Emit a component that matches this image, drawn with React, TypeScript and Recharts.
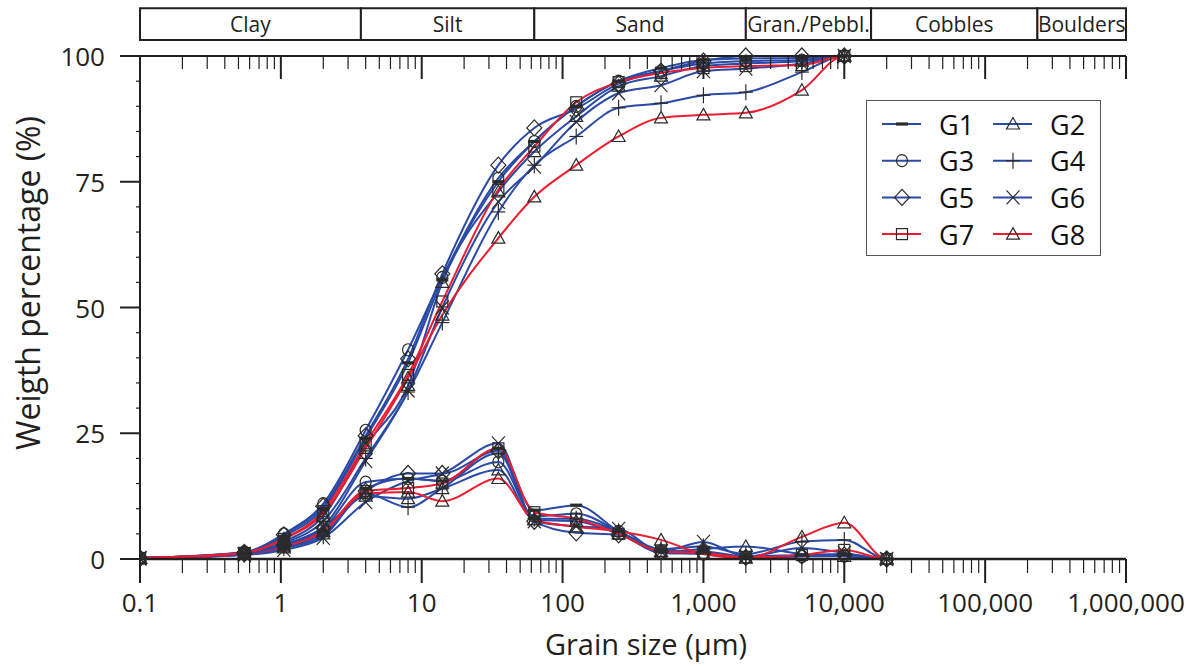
import React from 'react';
import { LineChart, Line, XAxis, YAxis, Legend, ReferenceArea, Customized } from 'recharts';

// grain sizes (um) of the sampled points; last point only carries the line out to the right
const sizesCum = [0.1, 0.55, 1.05, 2, 4, 8, 14, 35, 63, 125, 250, 500, 1000, 2000, 5000, 10000, 500000];
const sizesFreq = [0.1, 0.55, 1.05, 2, 4, 8, 14, 35, 63, 125, 250, 500, 1000, 2000, 5000, 10000, 20000, 500000];

const groups = ['G1', 'G2', 'G3', 'G4', 'G5', 'G6', 'G7', 'G8'];
const groupColors = ['#2A4AA6', '#2A4AA6', '#2A4AA6', '#2A4AA6', '#2A4AA6', '#2A4AA6', '#EE1C2E', '#EE1C2E'];
const groupMarkers = ['dash', 'triangle', 'circle', 'plus', 'diamond', 'cross', 'square', 'triangle'];

// cumulative curves (%)
const cumG1 = [0.2, 1.3, 4.5, 10, 24, 39, 55.5, 75, 83, 90, 95, 97.6, 99.2, 99.5, 99.6, 100, 100];
const cumG2 = [0.2, 1.2, 3.5, 8.5, 22.5, 34.5, 55, 73, 81, 88, 94, 96, 98, 98.5, 99, 100, 100];
const cumG3 = [0.2, 1.4, 5, 11, 25.6, 41.6, 56, 75.7, 83, 90, 95, 97, 98.5, 99, 99.2, 100, 100];
const cumG4 = [0.2, 1.1, 3.2, 7.5, 20, 33.2, 47, 69, 78.3, 84, 89.7, 90.6, 92.2, 92.8, 96.8, 100, 100];
const cumG5 = [0.2, 1.3, 4.8, 10.5, 24.5, 39.8, 56.7, 78.3, 85.7, 89.5, 94.5, 97, 99, 100, 100, 100, 100];
const cumG6 = [0.2, 1.0, 2.8, 6.5, 19.5, 33.5, 50, 71, 78, 86.9, 92.6, 94.2, 97, 97.5, 98.5, 100, 100];
const cumG7 = [0.2, 1.2, 4, 9.5, 23, 36.6, 51.2, 73.4, 82, 90.8, 94.8, 96.6, 97.6, 98, 98.2, 100, 100];
const cumG8 = [0.2, 1.2, 4, 9, 22, 36, 48.5, 63.8, 72, 78.3, 84, 87.7, 88.3, 88.7, 93.2, 100, 100];

// frequency curves (%)
const freqG1 = [0.1, 1.0, 2.5, 5.5, 14, 16, 15.5, 22, 9.7, 10.7, 5.5, 1.5, 1.5, 0.5, 0.8, 1.0, 0, 0];
const freqG2 = [0.1, 1.0, 2.2, 5.0, 12.5, 12, 14, 17.7, 7.8, 7.5, 5.0, 1.5, 2.0, 2.5, 1.0, 0.5, 0, 0];
const freqG3 = [0.1, 1.1, 3.0, 6.0, 15.3, 16, 15.5, 19.3, 8.5, 9, 5.5, 1.2, 1.0, 0.3, 0.5, 0.6, 0, 0];
const freqG4 = [0.1, 0.9, 2.2, 4.5, 13, 10.3, 14.1, 21, 8, 8, 5.5, 2, 2.5, 1, 3.5, 3.8, 0, 0];
const freqG5 = [0.1, 1.0, 2.8, 6.2, 13.5, 17, 17, 21.5, 7.5, 5.2, 4.8, 1.5, 1.2, 0.3, 0.6, 0.8, 0, 0];
const freqG6 = [0.1, 0.8, 1.8, 4.2, 11.3, 15.5, 17, 23, 7.5, 6.5, 6, 1.5, 3.4, 0.5, 2.2, 1.2, 0, 0];
const freqG7 = [0.1, 1.0, 2.5, 5.5, 13.5, 14.1, 15, 22, 9.3, 8, 5, 1.5, 1.2, 0.3, 0.8, 1.8, 0, 0];
const freqG8 = [0.1, 1.0, 2.6, 5.5, 13, 13.3, 11.5, 16, 7.8, 6.4, 5.5, 3.8, 1.0, 0.2, 4.4, 7.2, 0, 0];

const cumValues = [cumG1, cumG2, cumG3, cumG4, cumG5, cumG6, cumG7, cumG8];
const freqValues = [freqG1, freqG2, freqG3, freqG4, freqG5, freqG6, freqG7, freqG8];

// size classes shown in the bar above the plot
const zoneNames = ['Clay', 'Silt', 'Sand', 'Gran./Pebbl.', 'Cobbles', 'Boulders'];
const zoneLimits = [0.1, 3.7, 63, 2000, 15500, 235000, 1000000];

const xMajor = [0.1, 1, 10, 100, 1000, 10000, 100000, 1000000];

const xMinor: number[] = [];
xMajor.slice(0, -1).forEach((d) => {
    for (let k = 2; k <= 9; k++) xMinor.push(+(d * k).toPrecision(3));
});
const xTicks = [...xMajor, ...xMinor].sort((a, b) => a - b);
const yTicks: number[] = [];
for (let v = 0; v <= 100; v += 5) yTicks.push(v);

const INK = '#231F20';
const FONT = '"Open Sans", "Noto Sans", sans-serif';

// chart box
const W = 1199;
const H = 666;
const M = { top: 46, right: 73, bottom: 47, left: 20 };
const TOP_AXIS_H = 10;
const BOTTOM_AXIS_H = 60;
const PLOT_H = H - M.top - M.bottom - TOP_AXIS_H - BOTTOM_AXIS_H;

const toPoints = (sizes: number[], vals: number[]) => sizes.map((x, i) => ({ x, y: vals[i] }));

const isMajor = (v: number) => Math.abs(Math.log10(v) - Math.round(Math.log10(v))) < 1e-6;
const fmtX = (v: number) => (v < 1 ? String(v) : v.toLocaleString('en-US'));

const Marker = ({ shape, cx, cy }: { shape: string; cx: number; cy: number }) => {
    const s = { fill: 'none', stroke: '#2b2b2b', strokeWidth: 1.2 };
    switch (shape) {
        case 'dash':
            return <rect x={cx - 6} y={cy - 1.6} width={12} height={3.2} fill="#2b2b2b" />;
        case 'triangle':
            return <polygon points={`${cx},${cy - 6.5} ${cx + 6.5},${cy + 5} ${cx - 6.5},${cy + 5}`} {...s} />;
        case 'circle':
            return <ellipse cx={cx} cy={cy} rx={5.5} ry={6} {...s} />;
        case 'plus':
            return (
                <g {...s}>
                    <line x1={cx - 7} x2={cx + 7} y1={cy} y2={cy} />
                    <line x1={cx} x2={cx} y1={cy - 8} y2={cy + 8} />
                </g>
            );
        case 'diamond':
            return <polygon points={`${cx},${cy - 8} ${cx + 7.5},${cy} ${cx},${cy + 8} ${cx - 7.5},${cy}`} {...s} />;
        case 'cross':
            return (
                <g {...s}>
                    <line x1={cx - 6.5} x2={cx + 6.5} y1={cy - 7} y2={cy + 7} />
                    <line x1={cx - 6.5} x2={cx + 6.5} y1={cy + 7} y2={cy - 7} />
                </g>
            );
        default:
            return <rect x={cx - 5.5} y={cy - 5.5} width={11} height={11} {...s} />;
    }
};

const makeDot = (shape: string, tag: string) => (props: any) => {
    const { cx, cy, index, payload } = props;
    if (cx == null || cy == null || payload.x > 100000) return <g key={`${tag}-${index}`} />;
    return (
        <g key={`${tag}-${index}`}>
            <Marker shape={shape} cx={cx} cy={cy} />
        </g>
    );
};

// bottom axis tick, also mirrors a tick inside the top border
const BottomTick = (props: any) => {
    const { x, y, payload } = props;
    const major = isMajor(payload.value);
    const top = y - PLOT_H;
    return (
        <g>
            <line x1={x} x2={x} y1={y} y2={y + (major ? 24 : 14)} stroke={INK} strokeWidth={major ? 2 : 1.2} />
            <line x1={x} x2={x} y1={top} y2={top + (major ? 23 : 13)} stroke={INK} strokeWidth={major ? 2 : 1.2} />
            {major && (
                <text x={x} y={y + 53} textAnchor="middle" fontSize={26} fill={INK} fontFamily={FONT}>
                    {fmtX(payload.value)}
                </text>
            )}
        </g>
    );
};

const LeftTick = (props: any) => {
    const { x, y, payload } = props;
    const major = payload.value % 25 === 0;
    return (
        <g>
            <line x1={x} x2={x - (major ? 20 : 4)} y1={y} y2={y} stroke={INK} strokeWidth={major ? 2 : 1.2} />
            {major && (
                <text x={x - 35} y={y} textAnchor="end" dominantBaseline="central" fontSize={26} fill={INK} fontFamily={FONT}>
                    {payload.value}
                </text>
            )}
        </g>
    );
};

const Titles = () => (
    <g fontFamily={FONT} fill={INK}>
        <text x={646} y={655} textAnchor="middle" fontSize={29}>
            Grain size (µm)
        </text>
        <text x={40} y={283} transform="rotate(-90, 40, 283)" textAnchor="middle" fontSize={32}>
            Weigth percentage (%)
        </text>
    </g>
);

const LegendBox = () => (
    <div
        style={{
            width: 235,
            height: 156,
            border: '1.5px solid #555',
            background: '#fff',
            boxSizing: 'border-box',
            position: 'relative',
        }}
    >
        <svg width={235} height={156} style={{ position: 'absolute', left: 0, top: 0 }}>
            {groups.map((g, i) => {
                const col = i % 2;
                const row = Math.floor(i / 2);
                const cx = col === 0 ? 35 : 146;
                const cy = 23 + row * 36.7;
                return (
                    <g key={g}>
                        <line x1={cx - 20} x2={cx + 19} y1={cy} y2={cy} stroke={groupColors[i]} strokeWidth={2} />
                        <Marker shape={groupMarkers[i]} cx={cx} cy={cy} />
                        <text x={cx + 37} y={cy} dominantBaseline="central" fontSize={27} fill="#111" fontFamily={FONT}>
                            {g}
                        </text>
                    </g>
                );
            })}
        </svg>
    </div>
);

export default function App() {
    return (
        <div style={{ position: 'absolute', left: 0, top: 0, background: '#fff' }}>
            <LineChart width={W} height={H} margin={M}>
                <XAxis
                    xAxisId="b"
                    dataKey="x"
                    type="number"
                    scale="log"
                    domain={[0.1, 1000000]}
                    allowDataOverflow
                    ticks={xTicks}
                    interval={0}
                    tickSize={0}
                    tickMargin={0}
                    tickLine={false}
                    tick={<BottomTick />}
                    height={BOTTOM_AXIS_H}
                    axisLine={{ stroke: INK, strokeWidth: 2.5 }}
                />
                <XAxis
                    xAxisId="t"
                    orientation="top"
                    type="number"
                    scale="log"
                    domain={[0.1, 1000000]}
                    allowDataOverflow
                    tick={false}
                    tickLine={false}
                    height={TOP_AXIS_H}
                    axisLine={{ stroke: INK, strokeWidth: 2 }}
                />
                <YAxis
                    yAxisId="l"
                    type="number"
                    domain={[0, 100]}
                    ticks={yTicks}
                    interval={0}
                    tickSize={0}
                    tickMargin={0}
                    tickLine={false}
                    tick={<LeftTick />}
                    width={120}
                    axisLine={{ stroke: INK, strokeWidth: 2 }}
                />
                <YAxis
                    yAxisId="r"
                    orientation="right"
                    type="number"
                    domain={[0, 100]}
                    tick={false}
                    tickLine={false}
                    width={0}
                    axisLine={{ stroke: INK, strokeWidth: 1.5 }}
                />
                {zoneNames.map((z, i) => (
                    <ReferenceArea
                        key={z}
                        xAxisId="b"
                        yAxisId="l"
                        x1={zoneLimits[i]}
                        x2={zoneLimits[i + 1]}
                        y1={103.2}
                        y2={109.5}
                        ifOverflow="visible"
                        fill="#fff"
                        fillOpacity={1}
                        stroke={INK}
                        strokeWidth={2}
                        label={{ value: z, position: 'center', fontSize: 21, fill: INK, fontFamily: FONT }}
                    />
                ))}
                {groups.map((g, i) => (
                    <Line
                        key={`f-${g}`}
                        xAxisId="b"
                        yAxisId="l"
                        data={toPoints(sizesFreq, freqValues[i])}
                        dataKey="y"
                        type="monotone"
                        stroke={groupColors[i]}
                        strokeWidth={2}
                        dot={makeDot(groupMarkers[i], `f-${g}`)}
                        activeDot={false}
                        isAnimationActive={false}
                    />
                ))}
                {groups.map((g, i) => (
                    <Line
                        key={`c-${g}`}
                        xAxisId="b"
                        yAxisId="l"
                        data={toPoints(sizesCum, cumValues[i])}
                        dataKey="y"
                        type="monotone"
                        stroke={groupColors[i]}
                        strokeWidth={2}
                        dot={makeDot(groupMarkers[i], `c-${g}`)}
                        activeDot={false}
                        isAnimationActive={false}
                    />
                ))}
                <Customized component={<Titles />} />
                <Legend
                    layout="vertical"
                    align="center"
                    verticalAlign="middle"
                    content={<LegendBox />}
                    wrapperStyle={{ left: 866, top: 100, width: 235, height: 156 }}
                />
            </LineChart>
        </div>
    );
}
